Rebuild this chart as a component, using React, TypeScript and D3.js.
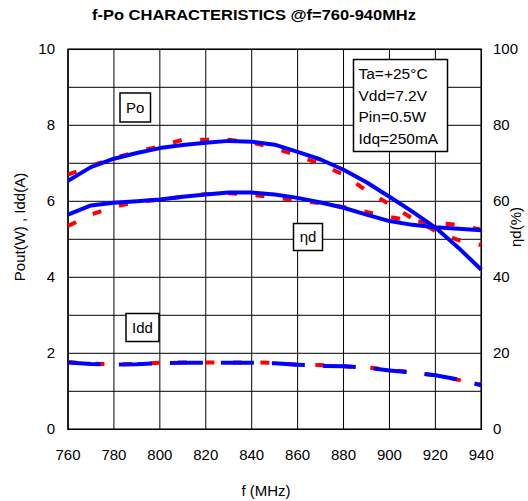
import React from "react";
import * as d3 from "d3";

const freqs = [760, 770, 780, 790, 800, 810, 820, 830, 840, 850, 860, 870, 880, 890, 900, 910, 920, 930, 940];
const poBlue = [6.54, 6.9, 7.12, 7.27, 7.4, 7.48, 7.54, 7.59, 7.57, 7.49, 7.3, 7.1, 6.83, 6.5, 6.12, 5.73, 5.31, 4.78, 4.2];
const poRed = [6.7, 6.93, 7.14, 7.3, 7.45, 7.62, 7.62, 7.62, 7.55, 7.4, 7.2, 6.98, 6.7, 6.28, 5.92, 5.55, 5.22, 4.98, 4.85];
const etaBlue = [56.5, 58.9, 59.6, 60.0, 60.5, 61.2, 61.8, 62.3, 62.3, 61.8, 60.9, 59.7, 58.3, 56.5, 54.8, 53.8, 53.2, 52.8, 52.4];
const etaRed = [53.5, 56.5, 58.5, 59.9, 60.4, 61.2, 61.9, 62.1, 61.7, 61.0, 60.2, 59.5, 58.5, 57.2, 55.9, 54.8, 54.3, 53.8, 52.5];
const iddBlue = [1.76, 1.72, 1.70, 1.71, 1.74, 1.75, 1.75, 1.75, 1.75, 1.74, 1.70, 1.67, 1.66, 1.62, 1.55, 1.49, 1.42, 1.31, 1.16];
const iddRed = [1.77, 1.73, 1.71, 1.72, 1.75, 1.76, 1.76, 1.76, 1.76, 1.75, 1.70, 1.69, 1.66, 1.63, 1.56, 1.50, 1.42, 1.30, 1.18];

const xTicks = [760, 780, 800, 820, 840, 860, 880, 900, 920, 940];
const yLeftTicks = [0, 2, 4, 6, 8, 10];
const yRightTicks = [0, 20, 40, 60, 80, 100];
const conditions = ["Ta=+25°C", "Vdd=7.2V", "Pin=0.5W", "Idq=250mA"];
const title = "f-Po CHARACTERISTICS @f=760-940MHz";

const FONT = "'Liberation Sans', Arial, sans-serif";

export default function App() {
  const W = 528, H = 501;
  const x = d3.scaleLinear().domain([760, 940]).range([68, 481.3]);
  const yL = d3.scaleLinear().domain([0, 10]).range([429.3, 49.3]);
  const yR = d3.scaleLinear().domain([0, 100]).range([429.3, 49.3]);

  const lineL = (vals: number[]) =>
    d3.line<number>().x((_, i) => x(freqs[i])).y((v) => yL(v))(vals) || "";
  const lineR = (vals: number[]) =>
    d3.line<number>().x((_, i) => x(freqs[i])).y((v) => yR(v))(vals) || "";

  const gridX = d3.range(760, 941, 20);
  const gridY = d3.range(0, 11, 1);

  const redDash = "9,18.5";
  const blue = "#0000ff";
  const red = "#ff0000";

  return (
    <svg width={W} height={H} style={{ position: "absolute", left: 0, top: 0, background: "#fff" }} fontFamily={FONT}>
      <rect x={0} y={0} width={W} height={H} fill="#fff" />
      <text x={254} y={20} textAnchor="middle" fontSize={14.5} fontWeight="bold" textLength={324} lengthAdjust="spacingAndGlyphs">{title}</text>

      {/* grid */}
      {gridX.map((g) => (
        <line key={"gx" + g} x1={x(g)} x2={x(g)} y1={yL(0)} y2={yL(10)} stroke="#000" strokeWidth={1} />
      ))}
      {gridY.map((g) => (
        <line key={"gy" + g} x1={x(760)} x2={x(940)} y1={yL(g)} y2={yL(g)} stroke="#000" strokeWidth={1} />
      ))}
      <rect x={x(760)} y={yL(10)} width={x(940) - x(760)} height={yL(0) - yL(10)} fill="none" stroke="#000" strokeWidth={1.5} />

      {/* red dashed series under */}
      <path d={lineL(poRed)} fill="none" stroke={red} strokeWidth={4} strokeDasharray={redDash} />
      <path d={lineR(etaRed)} fill="none" stroke={red} strokeWidth={4} strokeDasharray={redDash} />
      <path d={lineL(iddRed)} fill="none" stroke={red} strokeWidth={4} strokeDasharray={redDash} />

      {/* blue series */}
      <path d={lineL(poBlue)} fill="none" stroke={blue} strokeWidth={4} strokeLinejoin="round" />
      <path d={lineR(etaBlue)} fill="none" stroke={blue} strokeWidth={4} strokeLinejoin="round" />
      <path d={lineL(iddBlue)} fill="none" stroke={blue} strokeWidth={4} strokeDasharray="33,18" />

      {/* tick labels */}
      {yLeftTicks.map((t) => (
        <text key={"yl" + t} x={55} y={yL(t) + 5} textAnchor="end" fontSize={15}>{t}</text>
      ))}
      {yRightTicks.map((t) => (
        <text key={"yr" + t} x={493} y={yR(t) + 5} textAnchor="start" fontSize={15}>{t}</text>
      ))}
      {xTicks.map((t) => (
        <text key={"xt" + t} x={x(t)} y={460} textAnchor="middle" fontSize={15}>{t}</text>
      ))}

      {/* axis titles */}
      <text x={266} y={496} textAnchor="middle" fontSize={15}>f (MHz)</text>
      <text transform={`translate(25,227) rotate(-90)`} textAnchor="middle" fontSize={15}>Pout(W) , Idd(A)</text>
      <text transform={`translate(521,227) rotate(-90)`} textAnchor="middle" fontSize={15}>ηd(%)</text>

      {/* labels */}
      <rect x={120} y={93} width={30.5} height={29} fill="#fff" stroke="#000" strokeWidth={1.5} />
      <text x={135.25} y={113} textAnchor="middle" fontSize={15}>Po</text>
      <rect x={293.5} y={223.5} width={29} height={27} fill="#fff" stroke="#000" strokeWidth={1.5} />
      <text x={308} y={242} textAnchor="middle" fontSize={15}>ηd</text>
      <rect x={126} y={313.5} width={33} height={28} fill="#fff" stroke="#000" strokeWidth={1.5} />
      <text x={142.5} y={333} textAnchor="middle" fontSize={15}>Idd</text>

      <rect x={353.5} y={59.5} width={94} height={92} fill="#fff" stroke="#000" strokeWidth={1.5} />
      {conditions.map((c, i) => (
        <text key={c} x={358.5} y={79 + i * 21.7} fontSize={15.5}>{c}</text>
      ))}
    </svg>
  );
}
